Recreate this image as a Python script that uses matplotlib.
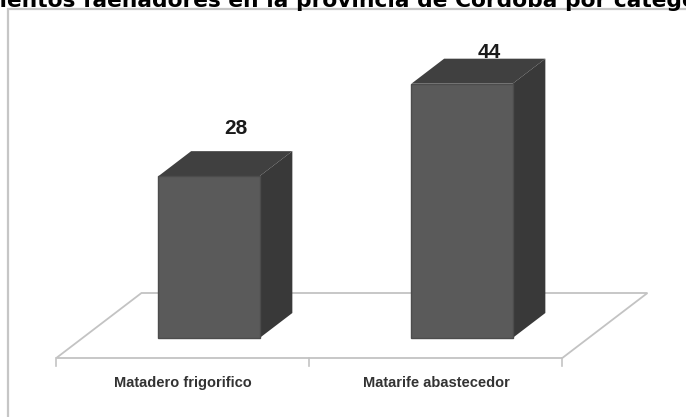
import numpy as np
import matplotlib.pyplot as plt
from matplotlib.patches import Polygon, Rectangle
from matplotlib.transforms import IdentityTransform

titulo = 'Establecimientos faenadores en la provincia de Córdoba por categoría'
categorias = ['Matadero frigorifico', 'Matarife abastecedor']
cantidades = [28, 44]

# estilo
c_frente = '#5a5a5a'
c_tapa = '#404040'
c_lado = '#393939'
c_piso = '#c3c3c3'
ancho = 0.4
prof_barra = 25          # profundidad de la barra (px)
piso_frente, piso_fondo = -20, 45
oblicua = np.array([1.31, 1.0])
alto_etiqueta = [48, 31]

fig = plt.figure(figsize=(6.86, 4.17), dpi=100)
ax = fig.add_axes([0, 0, 1, 1])
ax.set_axis_off()
ax.set_xlim(-209 / 253, (686 - 209) / 253)
ax.set_ylim(-79 / 5.78, 338 / 5.78)

x = np.arange(len(categorias))


def proy(xv, v, d):
    # punto (x, valor) desplazado en profundidad d (pixeles)
    return ax.transData.transform((xv, v)) + d * oblicua


def cara(puntos, color, z, **kw):
    ax.add_patch(Polygon(puntos, closed=True, facecolor=color,
                         transform=IdentityTransform(), zorder=z, **kw))


# marco del area del grafico
fig.add_artist(Rectangle((8 / 686, -0.1), 1.1, 1.1 - 9 / 417, transform=fig.transFigure,
                         fill=False, edgecolor='#c6c6c6', linewidth=1.6))

# piso
x0, x1 = x[0] - 0.5, x[-1] + 0.5
piso = [proy(x0, 0, piso_frente), proy(x1, 0, piso_frente),
        proy(x1, 0, piso_fondo), proy(x0, 0, piso_fondo)]
cara(piso, 'white', 1, edgecolor=c_piso, linewidth=1.3)
for t in np.arange(x0, x1 + 0.01, 1.0):
    p = proy(t, 0, piso_frente)
    ax.plot([p[0], p[0]], [p[1], p[1] - 8], color=c_piso, lw=1.2,
            transform=IdentityTransform(), zorder=1)

# barras: frente con ax.bar, tapa y lado oblicuos
ax.bar(x, cantidades, width=ancho, color=c_frente, edgecolor='#4c4c4c',
       linewidth=1.0, zorder=3)
for xi, v in zip(x, cantidades):
    izq, der = xi - ancho / 2, xi + ancho / 2
    cara([proy(izq, v, 0), proy(der, v, 0), proy(der, v, prof_barra),
          proy(izq, v, prof_barra)], c_tapa, 2)
    cara([proy(der, 0, 0), proy(der, v, 0), proy(der, v, prof_barra),
          proy(der, 0, prof_barra)], c_lado, 2)

fuente = ['Liberation Sans', 'DejaVu Sans']
for xi, v, h in zip(x, cantidades, alto_etiqueta):
    ax.annotate(str(v), xy=(xi, v), xytext=(27, h), textcoords='offset pixels',
                ha='center', va='center', fontsize=15, fontweight='bold',
                family=fuente, color='#1a1a1a', zorder=4)

for xi, nombre in zip(x, categorias):
    ax.annotate(nombre, xy=(xi, 0), xytext=(-26, -45), textcoords='offset pixels',
                ha='center', va='center', fontsize=10.5, fontweight='bold',
                family=fuente, color='#333333')

# titulo (recortado en los bordes)
visible = 'ientos faenadores en la provincia de Córdoba por categ'
oculto = titulo[:titulo.index(visible)]
r = fig.canvas.get_renderer()
prueba = fig.text(0, 0, visible, fontsize=14, fontweight='bold')
w_vis = prueba.get_window_extent(r).width
prueba.remove()
tam = 14 * 686 / w_vis
prueba = fig.text(0, 0, oculto, fontsize=tam, fontweight='bold')
w_ocu = prueba.get_window_extent(r).width
prueba.remove()
fig.text(-w_ocu / 686, 1 - 7 / 417, titulo, fontsize=tam, fontweight='bold',
         ha='left', va='baseline', color='black')

fig.savefig('out.png', dpi=100)
